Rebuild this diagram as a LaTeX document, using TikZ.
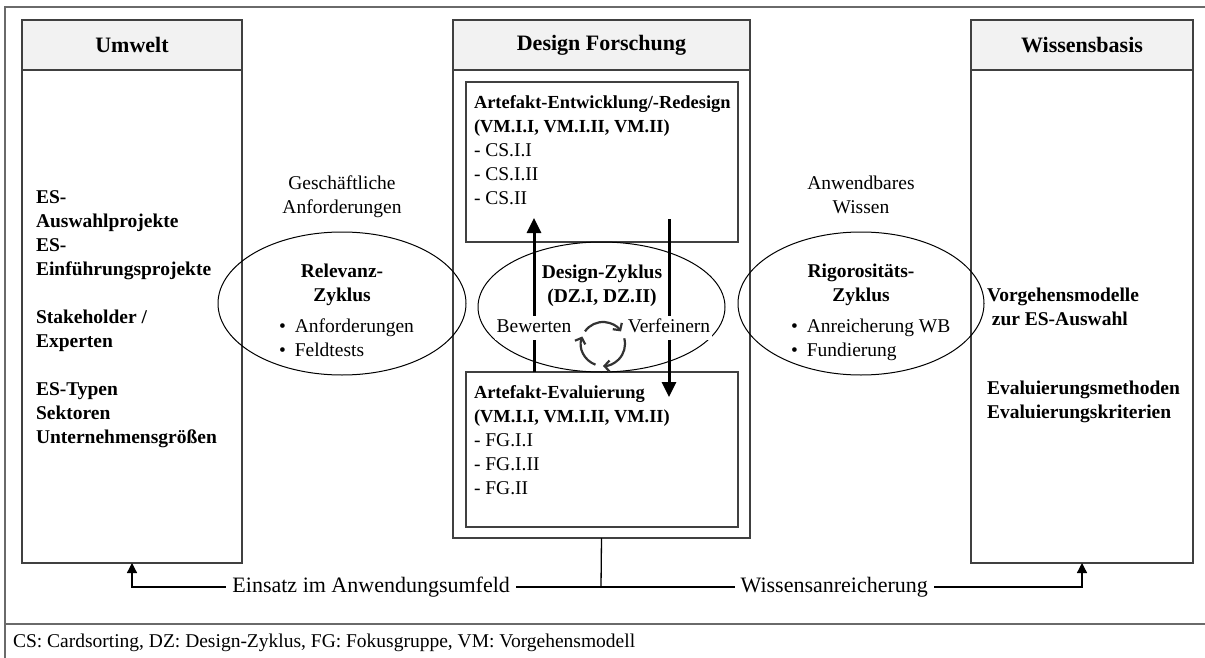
\documentclass[tikz,border=0pt]{standalone}
\usepackage{fontspec}
\setmainfont{Liberation Serif}
\usetikzlibrary{shapes.geometric,arrows.meta}
\definecolor{boxline}{HTML}{404040}
\definecolor{hdrfill}{HTML}{F2F2F2}
\definecolor{frameline}{HTML}{6A6A6A}
\definecolor{iconcol}{HTML}{333333}
\newcommand{\bodyfont}{\fontsize{19.5}{24}\selectfont}
\newcommand{\bigfont}{\fontsize{22}{24}\selectfont}
\newcommand{\boxbf}[1]{{\fontsize{18.4}{24}\selectfont\bfseries #1}}
\begin{document}
\begin{tikzpicture}[x=1pt,y=-1pt,
  every node/.style={inner sep=0pt, outer sep=0pt, font=\bodyfont},
  box/.style={draw=boxline, line width=1.5pt, rectangle, anchor=north west},
  hdr/.style={box, fill=hdrfill, font=\bigfont\bfseries},
  cyc/.style={draw=black, line width=1pt, ellipse},
  txt/.style={align=left, anchor=north west},
  ctxt/.style={align=center, anchor=north},
  bf/.style={font=\bodyfont\bfseries},
  bigarrow/.style={line width=3pt, -{Triangle[length=15pt,width=14pt]}},
  smallarrow/.style={line width=1.3pt, -{Triangle[length=10pt,width=10pt]}},
  lbl/.style={fill=white, inner xsep=6pt, font=\bigfont},
  icon/.style={draw=iconcol, line width=2.2pt, -{Straight Barb[length=5pt,width=11pt]}},
  frame/.style={draw=frameline, line width=1.5pt}
]
\useasboundingbox (0,0) rectangle (1205,658);
% outer frame
\draw[frame] (5,658) -- (5,7) -- (1205,7);
\draw[frame] (5,624) -- (1205,624);
\node[anchor=west, font=\bodyfont] (foot) at (13,643) {CS: Cardsorting, DZ: Design-Zyklus, FG: Fokusgruppe, VM: Vorgehensmodell};

% columns
\node[hdr, minimum width=220pt, minimum height=50pt] (Uh) at (22,20) {Umwelt};
\node[box, minimum width=220pt, minimum height=493pt] (Ub) at (22,70) {};
\node[hdr, minimum width=297pt, minimum height=50pt] (Dh) at (453,20) {Design Forschung};
\node[box, minimum width=297pt, minimum height=468pt] (Db) at (453,70) {};
\node[hdr, minimum width=222pt, minimum height=50pt] (Wh) at (971,20) {Wissensbasis};
\node[box, minimum width=222pt, minimum height=493pt] (Wb) at (971,70) {};
\node[box, minimum width=272pt, minimum height=160pt] (AE) at (466,82) {};
\node[box, minimum width=272pt, minimum height=155pt] (EV) at (466,372) {};

% cycles
\node[cyc, minimum width=248pt, minimum height=143pt] (RZ) at (342,303.5) {};
\node[cyc, minimum width=247pt, minimum height=130pt] (DZ) at (601.5,307) {};
\node[cyc, minimum width=246pt, minimum height=143pt] (GZ) at (861,303.5) {};

% texts left
\node[txt, bf] (ut) at (36,187) {\strut ES-\\\strut Auswahlprojekte\\\strut ES-\\\strut Einführungsprojekte\\\strut\\\strut Stakeholder /\\\strut Experten\\\strut\\\strut ES-Typen\\\strut Sektoren\\\strut Unternehmensgrößen};
% texts right
\node[txt, bf] (wt1) at (987,285) {\strut Vorgehensmodelle\\\strut\ zur ES-Auswahl};
\node[txt, bf] (wt2) at (987,378) {\strut Evaluierungsmethoden\\\strut Evaluierungskriterien};

% inner boxes texts
\node[txt] (aet) at (474,92) {\strut\boxbf{Artefakt-Entwicklung/-Redesign}\\\strut\boxbf{(VM.I.I, VM.I.II, VM.II)}\\\strut - CS.I.I\\\strut - CS.I.II\\\strut - CS.II};
\node[txt] (evt) at (474,382) {\strut\boxbf{Artefakt-Evaluierung}\\\strut\boxbf{(VM.I.I, VM.I.II, VM.II)}\\\strut - FG.I.I\\\strut - FG.I.II\\\strut - FG.II};

% outside labels
\node[ctxt] (ga) at (342,173) {\strut Geschäftliche\\\strut Anforderungen};
\node[ctxt] (aw) at (861,173) {\strut Anwendbares\\\strut Wissen};

% cycle texts
\node[ctxt, bf] (rzt) at (342,261) {\strut Relevanz-\\\strut Zyklus};
\node[txt] (rzl) at (279,316) {\strut\textbullet\hspace{9pt}Anforderungen\\\strut\textbullet\hspace{9pt}Feldtests};
\node[ctxt, bf] (gzt) at (861,261) {\strut Rigorositäts-\\\strut Zyklus};
\node[txt] (gzl) at (791,316) {\strut\textbullet\hspace{9pt}Anreicherung WB\\\strut\textbullet\hspace{9pt}Fundierung};
\node[ctxt, bf] (dzt) at (602,262) {\strut Design-Zyklus\\\strut (DZ.I, DZ.II)};

% design cycle arrows
\coordinate (upT) at (534,218);
\coordinate (dnS) at (669,219);
\coordinate (dnE) at (669,397);
\draw[bigarrow] (EV.north -| upT) -- (upT);
\draw[bigarrow] (dnS) -- (dnE);
\node[ctxt, fill=white, inner xsep=2pt] (bew) at (534,316) {\strut Bewerten};
\node[ctxt, fill=white, inner xsep=2pt] (ver) at (669,316) {\strut Verfeinern};

% cycle icon
\coordinate (ic) at (603,344);
\draw[icon] ([shift={(-145:22)}]ic) arc[start angle=-145, end angle=-35, radius=22];
\draw[icon] ([shift={(-15:22)}]ic) arc[start angle=-15, end angle=90, radius=22];
\draw[icon] ([shift={(110:22)}]ic) arc[start angle=110, end angle=200, radius=22];

% bottom connectors
\coordinate (jn) at (601,587);
\draw[line width=1.3pt] (Db.south) -- (jn);
\draw[smallarrow] (jn) -- node[lbl, pos=0.49] (l1) {Einsatz im Anwendungsumfeld} (jn -| Ub.south) -- (Ub.south);
\draw[smallarrow] (jn) -- node[lbl, pos=0.485] (l2) {Wissensanreicherung} (jn -| Wb.south) -- (Wb.south);
\end{tikzpicture}
\end{document}
